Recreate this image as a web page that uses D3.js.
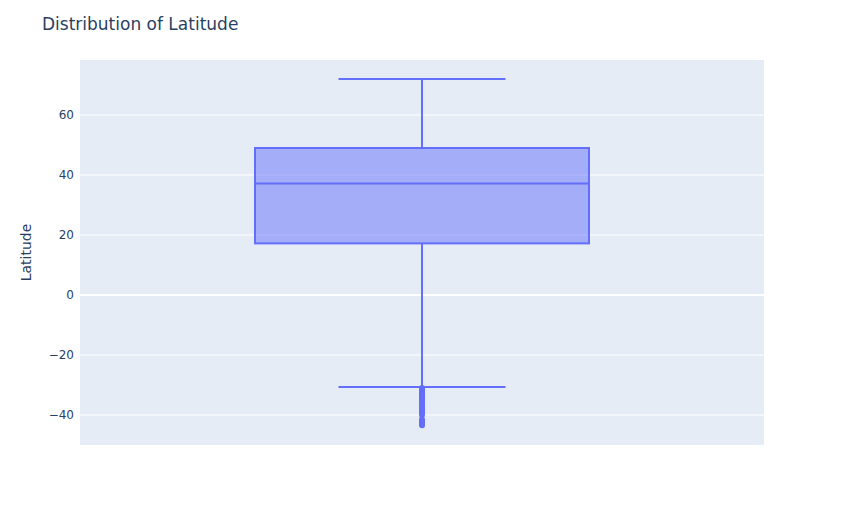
<!DOCTYPE html>
<html><head><meta charset="utf-8">
<script src="https://cdn.jsdelivr.net/npm/d3@7"></script>
<style>body{margin:0;background:#fff}svg{display:block}text{font-family:"DejaVu Sans",Verdana,Arial,sans-serif}</style>
</head><body>
<script>
const titleText = "Distribution of Latitude";
const yLabel = "Latitude";
const yTicks = [-40, -20, 0, 20, 40, 60];
const boxStats = {lowerFence: -30.67, q1: 17.2, median: 37.2, q3: 49, upperFence: 72};
const outliers = [-31, -31.4, -31.8, -32.3, -32.8, -33.3, -33.8, -34.4, -35, -35.7, -36.4, -37.1, -37.8, -38.5, -39.2, -40, -41.5, -42.2, -42.8, -43.4];

const W = 844, H = 525;
const m = {l: 80, r: 80, t: 60, b: 80};
const svg = d3.select("body").append("svg").attr("width", W).attr("height", H);
const y = d3.scaleLinear().domain([-50, 78.33]).range([H - m.b, m.t]);
const x = d3.scaleBand().domain(["Latitude"]).range([m.l, W - m.r]).paddingInner(0).paddingOuter(0.524);

svg.append("rect").attr("x", m.l).attr("y", m.t).attr("width", W - m.l - m.r).attr("height", H - m.t - m.b).attr("fill", "#e5ecf6");

const yAxis = d3.axisLeft(y).tickValues(yTicks).tickSize(0).tickPadding(6).tickFormat(d => d < 0 ? "\u2212" + Math.abs(d) : d);
const ga = svg.append("g").attr("transform", `translate(${m.l},0)`).call(yAxis);
ga.select(".domain").remove();
ga.selectAll("text").attr("fill", "#2a3f5f").style("font-size", "12px");
svg.append("g").selectAll("line").data(yTicks).join("line")
  .attr("x1", m.l).attr("x2", W - m.r).attr("y1", d => y(d)).attr("y2", d => y(d))
  .attr("stroke", "#fff").attr("stroke-width", d => d === 0 ? 2 : 1);

const cx = x("Latitude") + x.bandwidth() / 2;
const bw = x.bandwidth();
const col = "#636efa";
const g = svg.append("g");
g.append("line").attr("x1", cx).attr("x2", cx).attr("y1", y(boxStats.q3)).attr("y2", y(boxStats.upperFence)).attr("stroke", col).attr("stroke-width", 2);
g.append("line").attr("x1", cx).attr("x2", cx).attr("y1", y(boxStats.q1)).attr("y2", y(boxStats.lowerFence)).attr("stroke", col).attr("stroke-width", 2);
[boxStats.upperFence, boxStats.lowerFence].forEach(v => {
  g.append("line").attr("x1", cx - bw / 4).attr("x2", cx + bw / 4).attr("y1", y(v)).attr("y2", y(v)).attr("stroke", col).attr("stroke-width", 2);
});
g.append("rect").attr("x", cx - bw / 2).attr("width", bw).attr("y", y(boxStats.q3)).attr("height", y(boxStats.q1) - y(boxStats.q3))
  .attr("fill", col).attr("fill-opacity", 0.5).attr("stroke", col).attr("stroke-width", 2);
g.append("line").attr("x1", cx - bw / 2).attr("x2", cx + bw / 2).attr("y1", y(boxStats.median)).attr("y2", y(boxStats.median)).attr("stroke", col).attr("stroke-width", 2);
g.selectAll("circle").data(outliers).join("circle").attr("cx", cx).attr("cy", d => y(d)).attr("r", 3).attr("fill", col);

svg.append("text").attr("x", 42).attr("y", 30).attr("fill", "#2a3f5f").style("font-size", "17px").text(titleText);
svg.append("text").attr("transform", `translate(31,${(m.t + H - m.b) / 2}) rotate(-90)`).attr("text-anchor", "middle")
  .attr("fill", "#2a3f5f").style("font-size", "14px").text(yLabel);
</script>
</body></html>
